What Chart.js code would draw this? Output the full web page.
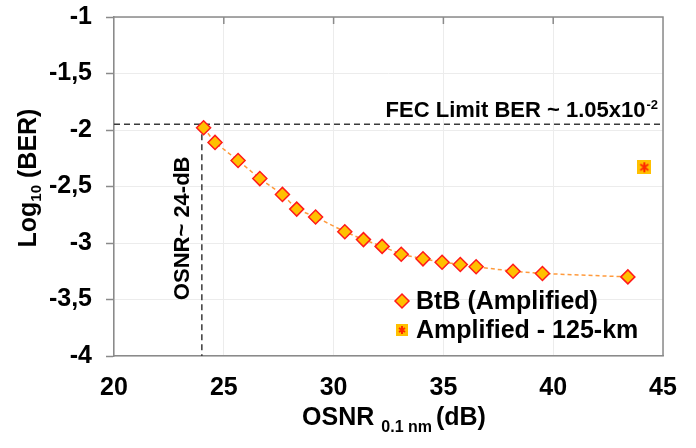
<!DOCTYPE html>
<html>
<head>
<meta charset="utf-8">
<script src="https://cdn.jsdelivr.net/npm/chart.js@4/dist/chart.umd.min.js"></script>
<style>
  html, body { margin: 0; padding: 0; background: #fff; }
  #wrap { width: 696px; height: 448px; }
</style>
</head>
<body>
<div id="wrap"><canvas id="chart" width="696" height="448"></canvas></div>
<script>
// BtB (Amplified) measurements
const btbOsnr = [24.08, 24.6, 25.65, 26.64, 27.67, 28.32, 29.18, 30.51, 31.36, 32.21, 33.08, 34.07, 34.94, 35.77, 36.49, 38.17, 39.51, 43.4]
const btbLogBer = [-1.98, -2.11, -2.27, -2.43, -2.57, -2.70, -2.77, -2.90, -2.97, -3.03, -3.10, -3.14, -3.17, -3.19, -3.21, -3.25, -3.27, -3.30]

// Amplified - 125-km
const ampOsnr = [44.15]
const ampLogBer = [-2.33]

// reference lines
const fecLimit = -1.95
const osnrAtFec = 24

const xTicks = [20, 25, 30, 35, 40, 45]
const yTicks = [-1, -1.5, -2, -2.5, -3, -3.5, -4]

const seriesNames = ['BtB (Amplified)', 'Amplified - 125-km']

const FONT = '"Liberation Sans", Arial, sans-serif'
const AXIS_GREY = '#8a8a8a'

// marker for the 125-km point: orange square with red asterisk
function starMarker (size) {
  const c = document.createElement('canvas')
  c.width = size
  c.height = size
  const g = c.getContext('2d')
  const m = size / 2
  g.fillStyle = '#ffc000'
  g.fillRect(0, 0, size, size)
  g.strokeStyle = '#ff2a00'
  g.lineWidth = 2
  g.beginPath()
  g.moveTo(m, 2); g.lineTo(m, size - 2)
  g.moveTo(3, 4); g.lineTo(size - 3, size - 4)
  g.moveTo(size - 3, 4); g.lineTo(3, size - 4)
  g.stroke()
  return c
}
const ampMarker = starMarker(14)
const ampLegendMarker = starMarker(12)

const zip = (xs, ys) => xs.map((x, i) => ({ x: x, y: ys[i] }))

const fmt = v => String(v).replace('.', ',')

const extras = {
  id: 'extras',
  afterDraw (chart) {
    const { ctx, chartArea: a, scales } = chart
    const xs = scales.x
    const ys = scales.y
    ctx.save()

    // frame on top and right plus small inner ticks on top
    ctx.strokeStyle = AXIS_GREY
    ctx.lineWidth = 1.5
    ctx.beginPath()
    ctx.moveTo(a.left, a.top); ctx.lineTo(a.right, a.top); ctx.lineTo(a.right, a.bottom)
    xTicks.slice(1, -1).forEach(v => {
      const px = xs.getPixelForValue(v)
      ctx.moveTo(px, a.top); ctx.lineTo(px, a.top + 7)
    })
    ctx.stroke()

    ctx.fillStyle = '#000'

    // FEC label
    ctx.textBaseline = 'alphabetic'
    ctx.textAlign = 'right'
    const fy = ys.getPixelForValue(fecLimit) - 7
    ctx.font = 'bold 13px ' + FONT
    const supW = ctx.measureText('-2').width
    ctx.fillText('-2', a.right - 5, fy - 8)
    ctx.font = 'bold 22px ' + FONT
    ctx.fillText('FEC Limit BER ~ 1.05x10', a.right - 6 - supW, fy)

    // OSNR threshold label, rotated
    ctx.save()
    ctx.translate(xs.getPixelForValue(osnrAtFec) - 19, ys.getPixelForValue(-2.87))
    ctx.rotate(-Math.PI / 2)
    ctx.font = 'bold 22px ' + FONT
    ctx.textAlign = 'center'
    ctx.textBaseline = 'middle'
    ctx.fillText('OSNR~ 24-dB', 0, 0)
    ctx.restore()

    // y title with subscript
    ctx.save()
    ctx.translate(29, 178)
    ctx.rotate(-Math.PI / 2)
    ctx.textBaseline = 'middle'
    ctx.textAlign = 'left'
    ctx.font = 'bold 25px ' + FONT
    const w1 = ctx.measureText('Log').width
    ctx.font = 'bold 15px ' + FONT
    const w2 = ctx.measureText('10').width
    ctx.font = 'bold 25px ' + FONT
    const w3 = ctx.measureText(' (BER)').width
    let sx = -(w1 + w2 + w3) / 2
    ctx.fillText('Log', sx, 0)
    ctx.font = 'bold 15px ' + FONT
    ctx.fillText('10', sx + w1, 8)
    ctx.font = 'bold 25px ' + FONT
    ctx.fillText(' (BER)', sx + w1 + w2, 0)
    ctx.restore()

    // x title with subscript
    ctx.textBaseline = 'alphabetic'
    ctx.textAlign = 'left'
    ctx.font = 'bold 25px ' + FONT
    const t1 = 'OSNR '
    const t3 = ' (dB)'
    const a1 = ctx.measureText(t1).width
    const a3 = ctx.measureText(t3).width
    ctx.font = 'bold 16px ' + FONT
    const a2 = ctx.measureText('0.1 nm').width
    sx = 394 - (a1 + a2 + a3 - 3) / 2
    const by = 425
    ctx.font = 'bold 25px ' + FONT
    ctx.fillText(t1, sx, by)
    ctx.font = 'bold 16px ' + FONT
    ctx.fillText('0.1 nm', sx + a1, by + 7)
    ctx.font = 'bold 25px ' + FONT
    ctx.fillText(t3, sx + a1 + a2 - 3, by)

    // legend inside the plot
    const rows = [
      { ds: chart.data.datasets[0], y: 301, style: 'rectRot', radius: 7 },
      { ds: chart.data.datasets[1], y: 330, style: ampLegendMarker, radius: 6 }
    ]
    ctx.font = 'bold 25px ' + FONT
    ctx.textBaseline = 'middle'
    rows.forEach((r, i) => {
      ctx.fillStyle = r.ds.pointBackgroundColor || '#ffc000'
      ctx.strokeStyle = r.ds.pointBorderColor || '#ff1a1a'
      ctx.lineWidth = r.ds.pointBorderWidth || 1.5
      Chart.helpers.drawPoint(ctx, {
        pointStyle: r.style,
        radius: r.radius,
        borderWidth: ctx.lineWidth,
        rotation: 0
      }, 402, r.y)
      ctx.fillStyle = '#000'
      ctx.fillText(seriesNames[i], 416, r.y + 1)
    })

    ctx.restore()
  }
}

new Chart(document.getElementById('chart'), {
  type: 'scatter',
  data: {
    datasets: [{
      label: seriesNames[0],
      data: zip(btbOsnr, btbLogBer),
      showLine: true,
      borderColor: '#ff9a3c',
      borderWidth: 1.5,
      borderDash: [4, 3],
      pointStyle: 'rectRot',
      pointRadius: 7,
      pointHoverRadius: 7,
      pointBackgroundColor: '#ffc000',
      pointBorderColor: '#ff1a1a',
      pointBorderWidth: 1.5,
      order: 1
    }, {
      label: seriesNames[1],
      data: zip(ampOsnr, ampLogBer),
      showLine: false,
      pointStyle: ampMarker,
      pointRadius: 7,
      order: 1
    }, {
      label: 'FEC limit',
      data: [{ x: xTicks[0], y: fecLimit }, { x: xTicks[xTicks.length - 1], y: fecLimit }],
      showLine: true,
      borderColor: '#3a3a3a',
      borderWidth: 1.5,
      borderDash: [6, 4],
      pointRadius: 0,
      order: 2
    }, {
      label: 'OSNR at FEC',
      data: [{ x: osnrAtFec, y: fecLimit }, { x: osnrAtFec, y: yTicks[yTicks.length - 1] }],
      showLine: true,
      borderColor: '#3a3a3a',
      borderWidth: 1.5,
      borderDash: [6, 4],
      pointRadius: 0,
      order: 2
    }]
  },
  options: {
    responsive: false,
    animation: false,
    events: [],
    layout: { padding: { top: 17, right: 33, left: 0, bottom: 0 } },
    plugins: {
      legend: { display: false },
      tooltip: { enabled: false }
    },
    scales: {
      x: {
        type: 'linear',
        min: 20,
        max: 45,
        afterBuildTicks: s => { s.ticks = xTicks.map(v => ({ value: v })) },
        afterFit: s => { s.height = 92; s.paddingLeft = 0; s.paddingRight = 0 },
        border: { color: AXIS_GREY, width: 1.5 },
        grid: { color: '#ececec', lineWidth: 1, drawTicks: false },
        ticks: {
          color: '#000',
          padding: 17,
          maxRotation: 0,
          font: { family: FONT, size: 25, weight: 'bold' }
        }
      },
      y: {
        type: 'linear',
        min: -4,
        max: -1,
        afterBuildTicks: s => { s.ticks = yTicks.map(v => ({ value: v })) },
        afterFit: s => { s.width = 114; s.paddingTop = 0; s.paddingBottom = 0 },
        border: { color: AXIS_GREY, width: 1.5 },
        grid: { color: '#ececec', lineWidth: 1, tickColor: AXIS_GREY, tickLength: 8, tickWidth: 1.5 },
        ticks: {
          color: '#000',
          padding: 14,
          font: { family: FONT, size: 25, weight: 'bold' },
          callback: v => fmt(v)
        }
      }
    }
  },
  plugins: [extras]
})
</script>
</body>
</html>
